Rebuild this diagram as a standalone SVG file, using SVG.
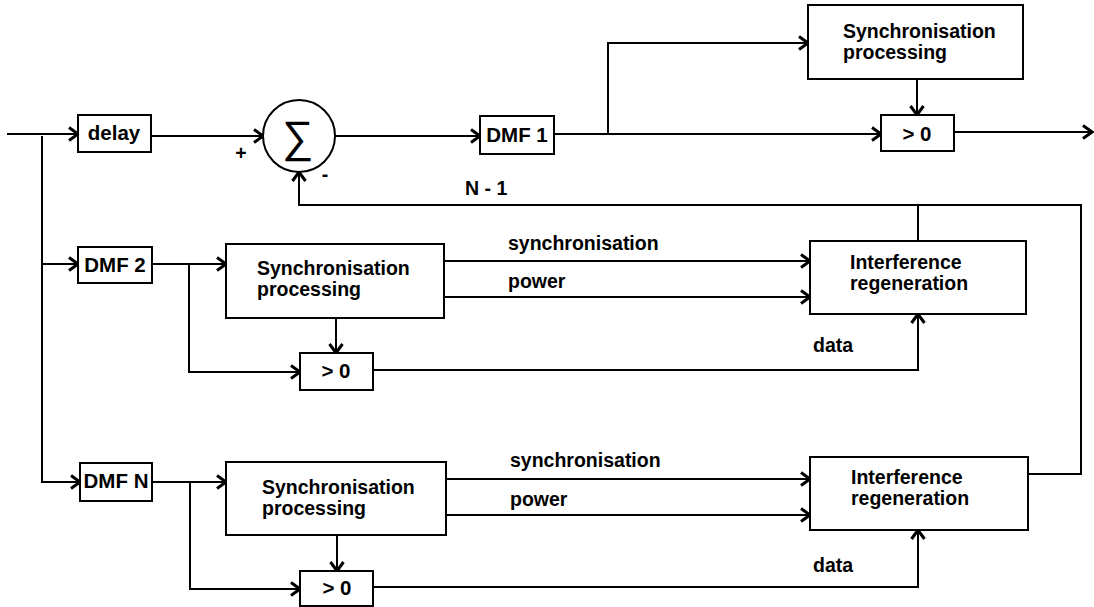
<svg xmlns="http://www.w3.org/2000/svg" width="1094" height="607" viewBox="0 0 1094 607">
<style>
.box{fill:#fff;stroke:#000;stroke-width:2}
.c{fill:none;stroke:#000;stroke-width:2}
.t{font-family:"Liberation Sans","DejaVu Sans",sans-serif;font-size:19.5px;font-weight:bold;fill:#000}
.s{font-size:20.5px}
.m{text-anchor:middle}
</style>
<defs>
<marker id="a" markerUnits="userSpaceOnUse" markerWidth="16" markerHeight="18" refX="11" refY="8" orient="auto">
<path d="M2,1.5 L11,8 L2,14.5" fill="none" stroke="#000" stroke-width="3"/>
</marker>
</defs>
<rect width="1094" height="607" fill="#fff"/>
<g id="connectors">
<path class="c" d="M7,134 H42" stroke-width="1"/>
<path class="c" d="M42,134 H78" marker-end="url(#a)"/>
<path class="c" d="M42,136 V482 H80" marker-end="url(#a)"/>
<path class="c" d="M42,264 H78" marker-end="url(#a)"/>
<path class="c" d="M151,136 H263" marker-end="url(#a)"/>
<path class="c" d="M335,136 H480" marker-end="url(#a)"/>
<path class="c" d="M554,134 H881" marker-end="url(#a)"/>
<path class="c" d="M608,134 V43 H808" marker-end="url(#a)"/>
<path class="c" d="M917,79 V115" marker-end="url(#a)"/>
<path class="c" d="M954,132 H1092" marker-end="url(#a)"/>
<path class="c" d="M918,241 V205"/>
<path class="c" d="M1028,474 H1081 V205 H299 V172" marker-end="url(#a)"/>
<path class="c" d="M152,264 H226" marker-end="url(#a)"/>
<path class="c" d="M189,264 V372 H300" marker-end="url(#a)"/>
<path class="c" d="M336,318 V353" marker-end="url(#a)"/>
<path class="c" d="M444,261 H810" marker-end="url(#a)"/>
<path class="c" d="M444,297 H810" marker-end="url(#a)"/>
<path class="c" d="M373,370 H918 V314" marker-end="url(#a)"/>
<path class="c" d="M152,482 H226" marker-end="url(#a)"/>
<path class="c" d="M190,482 V589 H300" marker-end="url(#a)"/>
<path class="c" d="M337,535 V571" marker-end="url(#a)"/>
<path class="c" d="M446,479 H810" marker-end="url(#a)"/>
<path class="c" d="M446,515 H810" marker-end="url(#a)"/>
<path class="c" d="M373,587 H918 V530" marker-end="url(#a)"/>
</g>
<g id="labels">
<text class="t" x="465" y="195" font-size="19">N - 1</text>
<text class="t" x="508" y="250" font-size="20.5">synchronisation</text>
<text class="t" x="508" y="288" font-size="20.5">power</text>
<text class="t" x="813" y="352" font-size="20.5">data</text>
<text class="t" x="510" y="467" font-size="20.5">synchronisation</text>
<text class="t" x="510" y="506" font-size="20.5">power</text>
<text class="t" x="813" y="572" font-size="20.5">data</text>
<text class="t m" x="241" y="160" font-size="16">+</text>
<text class="t m" x="325" y="181" font-size="16">-</text>
</g>
<g id="delay"><rect class="box" x="78" y="115" width="73" height="37"/><text class="t s m" x="114" y="140">delay</text></g>
<g id="sum"><circle class="box" cx="299" cy="136" r="36"/><text x="298" y="152" text-anchor="middle" font-family="DejaVu Sans, sans-serif" font-size="44" font-weight="200">∑</text></g>
<g id="dmf1"><rect class="box" x="480" y="116" width="74" height="38"/><text class="t s m" x="517" y="142">DMF 1</text></g>
<g id="sync1"><rect class="box" x="808" y="5" width="215" height="74"/><text class="t" x="843" y="38">Synchronisation</text><text class="t" x="843" y="59">processing</text></g>
<g id="gt1"><rect class="box" x="881" y="115" width="73" height="36"/><text class="t s m" x="917" y="141">&gt; 0</text></g>
<g id="dmf2"><rect class="box" x="78" y="247" width="74" height="36"/><text class="t s m" x="115" y="272">DMF 2</text></g>
<g id="sync2"><rect class="box" x="226" y="244" width="218" height="74"/><text class="t" x="257" y="275">Synchronisation</text><text class="t" x="257" y="296">processing</text></g>
<g id="gt2"><rect class="box" x="300" y="353" width="73" height="37"/><text class="t s m" x="336" y="378">&gt; 0</text></g>
<g id="interf1"><rect class="box" x="810" y="241" width="216" height="73"/><text class="t" x="850" y="269">Interference</text><text class="t" x="850" y="290">regeneration</text></g>
<g id="dmfN"><rect class="box" x="80" y="463" width="72" height="38"/><text class="t s m" x="116" y="488">DMF N</text></g>
<g id="sync3"><rect class="box" x="226" y="462" width="220" height="73"/><text class="t" x="262" y="494">Synchronisation</text><text class="t" x="262" y="515">processing</text></g>
<g id="gt3"><rect class="box" x="300" y="571" width="73" height="35"/><text class="t s m" x="337" y="595">&gt; 0</text></g>
<g id="interf2"><rect class="box" x="810" y="457" width="218" height="73"/><text class="t" x="851" y="484">Interference</text><text class="t" x="851" y="505">regeneration</text></g>
</svg>
